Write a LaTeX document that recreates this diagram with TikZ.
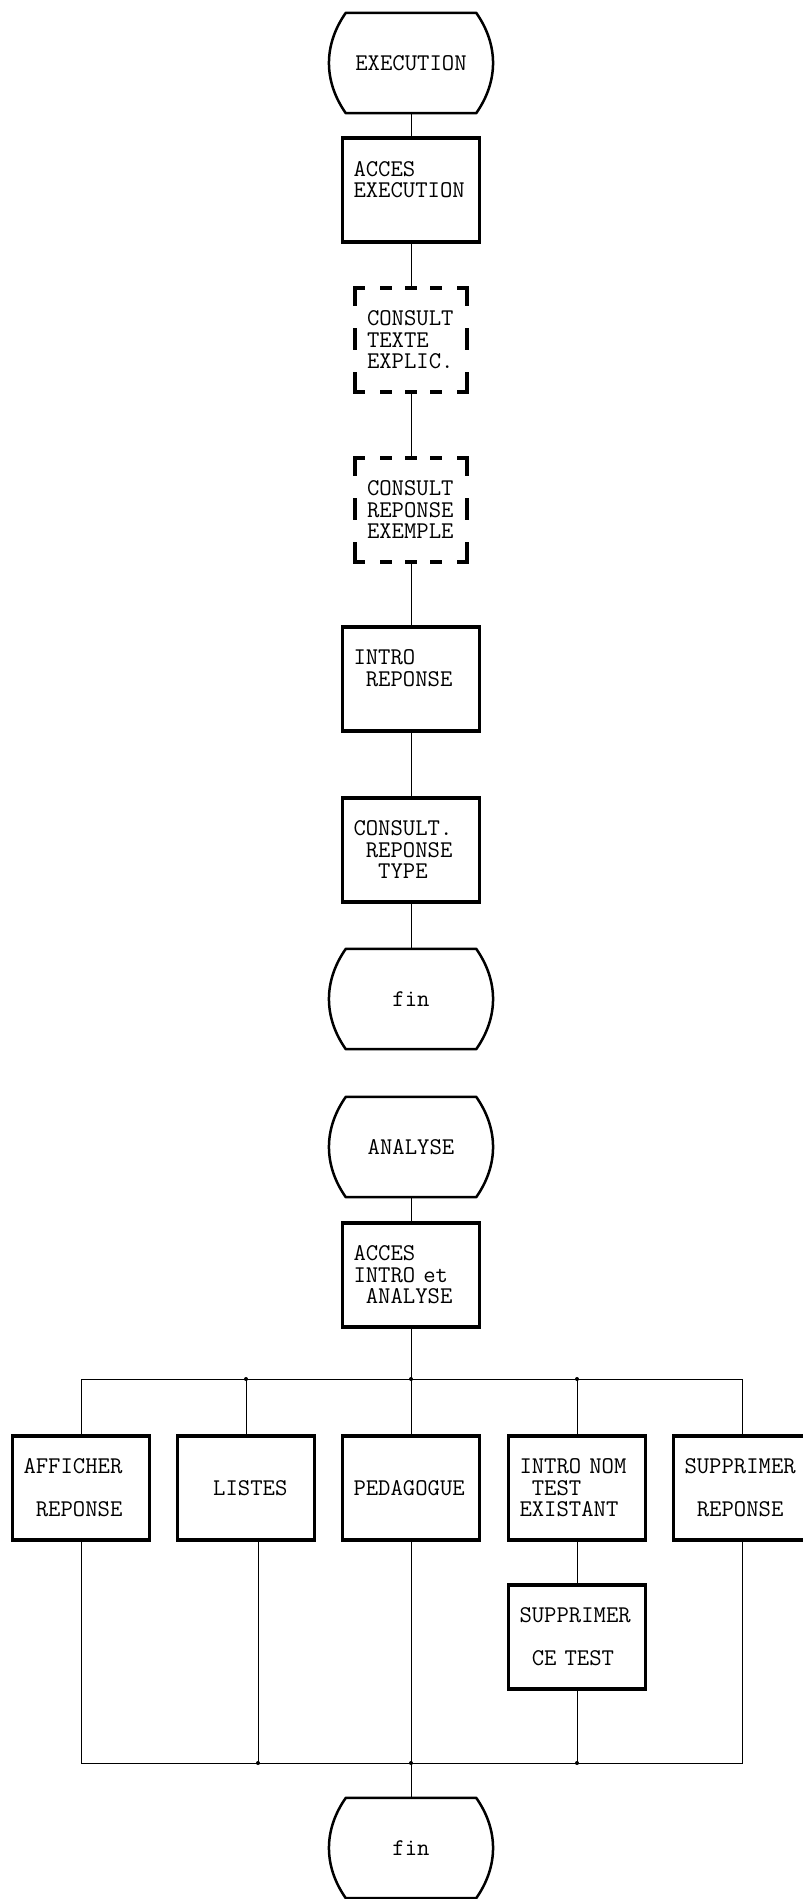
\documentclass[tikz,border=0pt]{standalone}
\usepackage{tikz}

\newcommand{\vide}{\phantom{X}}

\begin{document}
\begin{tikzpicture}[x=1pt, y=-1pt,
    every node/.style={font=\fontsize{24pt}{21.5pt}\selectfont\ttfamily},
    box/.style={rectangle, draw, line width=3.5pt, minimum width=137pt, minimum height=104pt, text width=115pt, align=left, inner sep=0pt},
    optbox/.style={rectangle, minimum width=112pt, minimum height=104pt, text width=88pt, align=left, inner sep=0pt},
    term/.style={rectangle, minimum width=130pt, minimum height=100pt, inner sep=0pt},
    termline/.style={line width=2.5pt, line join=round},
    hdash/.style={line width=4pt, line cap=rect, dash pattern=on 8pt off 19pt on 8pt off 17pt on 8pt off 17pt on 8pt off 19pt on 8pt off 4pt},
    vdash/.style={line width=4pt, line cap=rect, dash pattern=on 16pt off 26pt on 18pt off 26pt on 18pt off 4pt},
    link/.style={line width=1pt}]
    \useasboundingbox (0,0) rectangle (803,1899);

    % Execution
    \node[term] (exec) at (411,63) {EXECUTION};
    \node[box] (acces) at (411,190) {ACCES\\EXECUTION\\\mbox{}};
    \node[optbox] (texte) at (411,340) {CONSULT\\TEXTE\\EXPLIC.};
    \node[optbox] (exemple) at (411,510) {CONSULT\\REPONSE\\EXEMPLE};
    \node[box] (intro) at (411,679) {INTRO\\\vide REPONSE\\\mbox{}};
    \node[box] (consult) at (411,850) {CONSULT.\\\vide REPONSE\\\vide\vide TYPE};
    \node[term] (fin) at (411,999) {fin};

    % Analyse
    \node[term] (analyse) at (411,1147) {ANALYSE};
    \node[box] (accesana) at (411,1275) {ACCES\\INTRO et\\\vide ANALYSE};
    \node[box] (afficher) at (81,1488) {AFFICHER\\\mbox{}\\\vide REPONSE};
    \node[box] (listes) at (246,1488) {\vide\vide LISTES};
    \node[box] (pedago) at (411,1488) {PEDAGOGUE};
    \node[box] (intronom) at (577,1488) {INTRO NOM\\\vide TEST\\EXISTANT};
    \node[box] (suppresp) at (742,1488) {SUPPRIMER\\\mbox{}\\\vide REPONSE};
    \node[box] (supptest) at (577,1637) {SUPPRIMER\\\mbox{}\\\vide CE TEST};
    \node[term] (finana) at (411,1848) {fin};

    % Terminal outlines
    \foreach \n in {exec, fin, analyse, finana}
        \draw[termline] (\n.north west) -- (\n.north east) to[bend left=35] (\n.south east)
            -- (\n.south west) to[bend left=35] (\n.north west) -- (\n.north);

    % Optional steps
    \foreach \n in {texte, exemple} {
        \draw[hdash] (\n.north west) -- (\n.north east);
        \draw[hdash] (\n.south west) -- (\n.south east);
        \draw[vdash] (\n.north west) -- (\n.south west);
        \draw[vdash] (\n.north east) -- (\n.south east);
    }

    % Links
    \foreach \a/\b in {exec/acces, acces/texte, texte/exemple, exemple/intro, intro/consult,
        consult/fin, analyse/accesana, intronom/supptest}
        \draw[link] (\a) -- (\b);

    \coordinate (haut) at (411,1379);
    \coordinate (bas) at (411,1763);
    \coordinate (lb) at ([xshift=12pt]listes.south);
    \draw[link] (accesana) -- (haut);
    \foreach \n in {afficher, listes, pedago, intronom, suppresp}
        \draw[link] (\n.north) |- (haut);
    \foreach \n in {afficher, pedago, supptest, suppresp}
        \draw[link] (\n.south) |- (bas);
    \draw[link] (lb) |- (bas);
    \draw[link] (bas) -- (finana);

    % Junctions
    \foreach \n in {listes, pedago, intronom}
        \fill (\n.north |- haut) circle (2pt);
    \foreach \n in {lb, supptest.south}
        \fill (\n |- bas) circle (2pt);
    \fill (bas) circle (2pt);
\end{tikzpicture}
\end{document}
